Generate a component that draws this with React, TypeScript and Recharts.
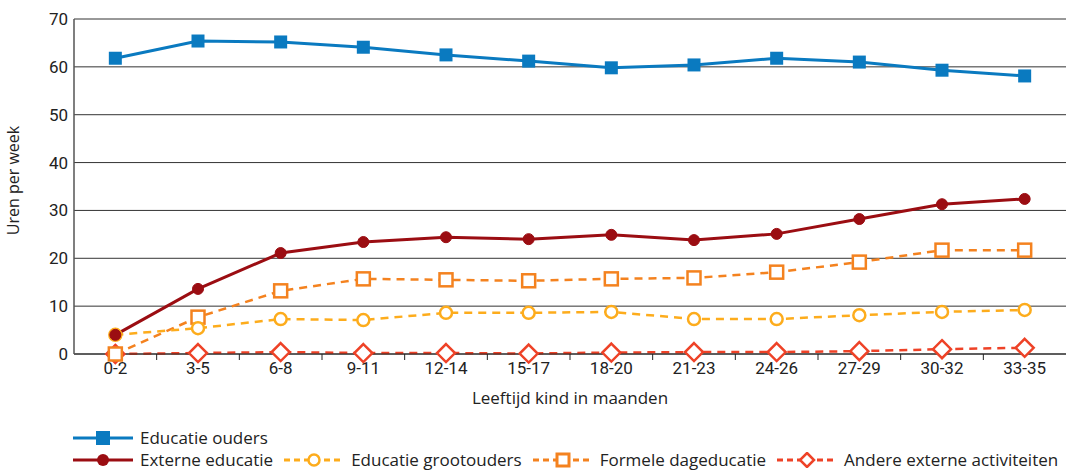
import React from 'react';
import { LineChart, Line, XAxis, YAxis, CartesianGrid, Label } from 'recharts';

const leeftijden = ['0-2', '3-5', '6-8', '9-11', '12-14', '15-17', '18-20', '21-23', '24-26', '27-29', '30-32', '33-35'];
const educatieOuders = [61.8, 65.4, 65.2, 64.1, 62.5, 61.2, 59.8, 60.4, 61.8, 61.0, 59.3, 58.1];
const externeEducatie = [4.0, 13.6, 21.1, 23.4, 24.4, 24.0, 24.9, 23.8, 25.1, 28.2, 31.3, 32.4];
const educatieGrootouders = [4.0, 5.4, 7.3, 7.1, 8.6, 8.6, 8.8, 7.3, 7.3, 8.1, 8.8, 9.2];
const formeleDageducatie = [0, 7.7, 13.2, 15.7, 15.5, 15.3, 15.7, 15.9, 17.1, 19.2, 21.7, 21.7];
const andereActiviteiten = [0, 0.2, 0.4, 0.2, 0.2, 0.1, 0.3, 0.4, 0.4, 0.6, 1.0, 1.3];
const yTicks = [0, 10, 20, 30, 40, 50, 60, 70];

const TICK_FONT = 'Roboto, "DejaVu Sans", sans-serif';
const TEXT_FONT = '"Open Sans", Roboto, sans-serif';
const C_BLAUW = '#0a7ac0';
const C_DONKERROOD = '#9b0d12';
const C_GEEL = '#fdac1c';
const C_ORANJE = '#f4821f';
const C_ROOD = '#ee4227';

const data = leeftijden.map((_, i) => ({
  i,
  ouders: educatieOuders[i],
  extern: externeEducatie[i],
  grootouders: educatieGrootouders[i],
  formeel: formeleDageducatie[i],
  andere: andereActiviteiten[i],
}));

// labels on whole positions, small tick marks on the band boundaries
const xTicks: number[] = [];
leeftijden.forEach((_, i) => {
  xTicks.push(i);
  if (i < leeftijden.length - 1) xTicks.push(i + 0.5);
});

const XTick = (props: any) => {
  const { x, y, payload } = props;
  const v = payload.value as number;
  if (Number.isInteger(v)) {
    return (
      <text x={x} y={y} dy="0.71em" textAnchor="middle" fontSize={17} fill="#222" fontFamily={TICK_FONT}>
        {leeftijden[v]}
      </text>
    );
  }
  return <line x1={x} x2={x} y1={y - 8} y2={y - 2} stroke="#222" strokeWidth={1} />;
};

const Vierkant = (kleur: string, open: boolean, s: number) => (p: any) => {
  const { cx, cy, index } = p;
  if (cx == null || cy == null) return <g key={index} />;
  return (
    <rect key={index} x={cx - s / 2} y={cy - s / 2} width={s} height={s}
      fill={open ? '#fff' : kleur} stroke={kleur} strokeWidth={open ? 2.5 : 0} />
  );
};

const Ruit = (kleur: string) => (p: any) => {
  const { cx, cy, index } = p;
  if (cx == null || cy == null) return <g key={index} />;
  const r = 9;
  return (
    <path key={index} d={`M${cx},${cy - r}L${cx + r},${cy}L${cx},${cy + r}L${cx - r},${cy}Z`}
      fill="#fff" stroke={kleur} strokeWidth={2.5} />
  );
};

type LegendItem = { naam: string; kleur: string; dashed: boolean; marker: 'sq' | 'dot' | 'circle' | 'osq' | 'diamond' };

const LegendSymbol = ({ item }: { item: LegendItem }) => {
  const { kleur, dashed, marker } = item;
  return (
    <svg width={60} height={16} style={{ display: 'block', marginRight: 7 }}>
      <line x1={0} x2={60} y1={8} y2={8} stroke={kleur} strokeWidth={3}
        strokeDasharray={dashed ? '6 4' : undefined} />
      {marker === 'sq' && <rect x={23} y={1} width={14} height={14} fill={kleur} />}
      {marker === 'dot' && <circle cx={30} cy={8} r={6} fill={kleur} />}
      {marker === 'circle' && <circle cx={30} cy={8} r={5.5} fill="#fff" stroke={kleur} strokeWidth={2.5} />}
      {marker === 'osq' && <rect x={24} y={2} width={12} height={12} fill="#fff" stroke={kleur} strokeWidth={3} />}
      {marker === 'diamond' && <path d="M30,1L37,8L30,15L23,8Z" fill="#fff" stroke={kleur} strokeWidth={2.5} />}
    </svg>
  );
};

const rij1: LegendItem[] = [
  { naam: 'Educatie ouders', kleur: C_BLAUW, dashed: false, marker: 'sq' },
];
const rij2: LegendItem[] = [
  { naam: 'Externe educatie', kleur: C_DONKERROOD, dashed: false, marker: 'dot' },
  { naam: 'Educatie grootouders', kleur: C_GEEL, dashed: true, marker: 'circle' },
  { naam: 'Formele dageducatie', kleur: C_ORANJE, dashed: true, marker: 'osq' },
  { naam: 'Andere externe activiteiten', kleur: C_ROOD, dashed: true, marker: 'diamond' },
];

const Legenda = () => (
  <div style={{ position: 'absolute', left: 73, top: 427, fontFamily: TEXT_FONT, fontSize: 17, color: '#222' }}>
    {[rij1, rij2].map((rij, r) => (
      <div key={r} style={{ display: 'flex', alignItems: 'center', height: 22, whiteSpace: 'nowrap' }}>
        {rij.map((item) => (
          <div key={item.naam} style={{ display: 'flex', alignItems: 'center', marginRight: 11, lineHeight: '22px' }}>
            <LegendSymbol item={item} />
            <span>{item.naam}</span>
          </div>
        ))}
      </div>
    ))}
  </div>
);

export default function App() {
  return (
    <div style={{ position: 'absolute', left: 0, top: 0, width: 1066, height: 472, background: '#fff' }}>
      <LineChart width={1066} height={472} data={data} margin={{ top: 19, right: 0, bottom: 68, left: 0 }}>
        <CartesianGrid vertical={false} stroke="#333" strokeWidth={1} />
        <XAxis
          dataKey="i"
          type="number"
          domain={[-0.5, 11.5]}
          ticks={xTicks}
          interval={0}
          tick={<XTick />}
          tickLine={false}
          tickSize={6}
          tickMargin={2}
          axisLine={{ stroke: '#222', strokeWidth: 1 }}
          height={50}
        >
          <Label value="Leeftijd kind in maanden" position="insideBottom" offset={0}
            style={{ fontSize: 17, fill: '#222', fontFamily: TEXT_FONT }} />
        </XAxis>
        <YAxis
          domain={[0, 70]}
          ticks={yTicks}
          width={74}
          tickLine={false}
          tickSize={0}
          tickMargin={6}
          axisLine={{ stroke: '#555', strokeWidth: 1.5 }}
          tick={{ fontSize: 17, fill: '#222', fontFamily: TICK_FONT }}
        >
          <Label value="Uren per week" angle={-90} position="insideLeft" offset={13} dy={-6}
            style={{ fontSize: 16, fill: '#222', fontFamily: TEXT_FONT, textAnchor: 'middle' }} />
        </YAxis>
        <Line dataKey="ouders" stroke={C_BLAUW} strokeWidth={3} dot={Vierkant(C_BLAUW, false, 13)}
          isAnimationActive={false} />
        <Line dataKey="andere" stroke={C_ROOD} strokeWidth={2.5} strokeDasharray="8 6" dot={Ruit(C_ROOD)}
          isAnimationActive={false} />
        <Line dataKey="formeel" stroke={C_ORANJE} strokeWidth={2.5} strokeDasharray="8 6" dot={Vierkant(C_ORANJE, true, 13)}
          isAnimationActive={false} />
        <Line dataKey="grootouders" stroke={C_GEEL} strokeWidth={2.5} strokeDasharray="8 6"
          dot={{ r: 6, fill: '#fff', stroke: C_GEEL, strokeWidth: 2.5, strokeDasharray: '' }} isAnimationActive={false} />
        <Line dataKey="extern" stroke={C_DONKERROOD} strokeWidth={3}
          dot={{ r: 5.5, fill: C_DONKERROOD, stroke: C_DONKERROOD, strokeWidth: 1 }} isAnimationActive={false} />
      </LineChart>
      <Legenda />
    </div>
  );
}
